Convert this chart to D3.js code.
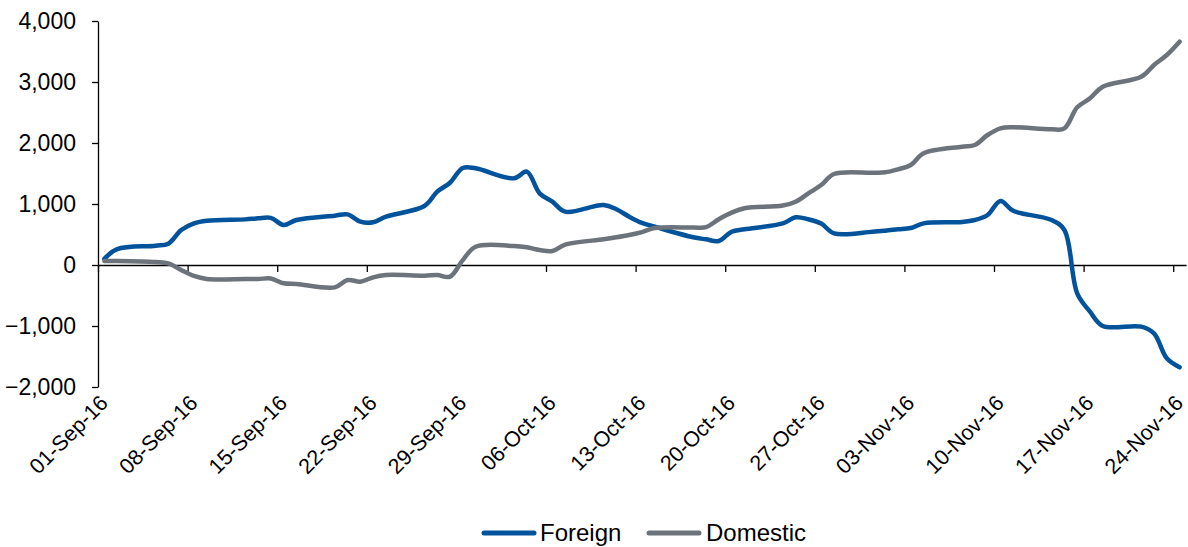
<!DOCTYPE html>
<html>
<head>
<meta charset="utf-8">
<script src="https://cdn.jsdelivr.net/npm/d3@7"></script>
<style>
  body { margin: 0; background: #fff; }
  svg { display: block; font-family: "Liberation Sans", Arial, sans-serif; }
</style>
</head>
<body>
<svg id="chart" width="1188" height="547"></svg>
<script>
// trading days, 01-Sep-16 .. 24-Nov-16
const dates = [
  "2016-09-01", "2016-09-02",
  "2016-09-05", "2016-09-06", "2016-09-07", "2016-09-08", "2016-09-09",
  "2016-09-12", "2016-09-13", "2016-09-14", "2016-09-15", "2016-09-16",
  "2016-09-19", "2016-09-20", "2016-09-21", "2016-09-22", "2016-09-23",
  "2016-09-26", "2016-09-27", "2016-09-28", "2016-09-29", "2016-09-30",
  "2016-10-03", "2016-10-04", "2016-10-05", "2016-10-06", "2016-10-07",
  "2016-10-10", "2016-10-11", "2016-10-12", "2016-10-13", "2016-10-14",
  "2016-10-17", "2016-10-18", "2016-10-19", "2016-10-20", "2016-10-21",
  "2016-10-24", "2016-10-25", "2016-10-26", "2016-10-27", "2016-10-28",
  "2016-10-31", "2016-11-01", "2016-11-02", "2016-11-03", "2016-11-04",
  "2016-11-07", "2016-11-08", "2016-11-09", "2016-11-10", "2016-11-11",
  "2016-11-14", "2016-11-15", "2016-11-16", "2016-11-17", "2016-11-18",
  "2016-11-21", "2016-11-22", "2016-11-23", "2016-11-24"
];

const foreign = [
  100, 260,
  316, 350, 574, 683, 726,
  748, 765, 772, 656, 737,
  809, 830, 710, 700, 792,
  967, 1202, 1349, 1590, 1585,
  1421, 1530, 1175, 1038, 874,
  983, 913, 792, 690, 628,
  454, 421, 393, 546, 585,
  683, 782, 749, 680, 519,
  546, 563, 585, 606, 683,
  705, 737, 820, 1050, 890,
  737, 574, -464, -765, -1000,
  -1011, -1120, -1530, -1677
];

const domestic = [
  66, 66,
  49, 27, -82, -180, -230,
  -230, -230, -220, -300, -311,
  -366, -246, -273, -202, -164,
  -175, -164, -191, 80, 300,
  311, 290, 246, 230, 335,
  421, 454, 492, 540, 605,
  615, 620, 750, 858, 930,
  975, 1038, 1175, 1311, 1492,
  1513, 1519, 1568, 1639, 1831,
  1939, 1967, 2131, 2240, 2257,
  2224, 2240, 2585, 2732, 2923,
  3087, 3279, 3443, 3660
];

const yTicks = [-2000, -1000, 0, 1000, 2000, 3000, 4000];
const xTickLabels = [
  "01-Sep-16", "08-Sep-16", "15-Sep-16", "22-Sep-16", "29-Sep-16", "06-Oct-16",
  "13-Oct-16", "20-Oct-16", "27-Oct-16", "03-Nov-16", "10-Nov-16", "17-Nov-16", "24-Nov-16"
];

const series = [
  { name: "Foreign", values: foreign, color: "#02539c" },
  { name: "Domestic", values: domestic, color: "#6c737a" }
];

const svg = d3.select("#chart");
const parse = d3.utcParse("%Y-%m-%d");
const day = 864e5;

const plotLeft = 98, plotRight = 1186, plotTop = 21, plotBottom = 387;

// date axis: each day is a slot, points sit in the middle of their slot
const x = d3.scaleUtc()
  .domain([parse("2016-09-01"), new Date(+parse("2016-11-24") + day)])
  .range([plotLeft, plotRight]);
const y = d3.scaleLinear().domain([-2000, 4000]).range([plotBottom, plotTop]);

const px = (s) => x(new Date(+parse(s) + day / 2));

// y axis
svg.append("g")
  .attr("transform", `translate(${plotLeft},0)`)
  .call(d3.axisLeft(y).tickValues(yTicks).tickSize(6).tickSizeOuter(0).tickPadding(16).tickFormat(d3.format(",")))
  .call((g) => g.selectAll("path, line").attr("stroke", "#000").attr("stroke-width", 1.3))
  .call((g) => g.selectAll("text").attr("font-size", 23).attr("fill", "#000").attr("font-family", "Liberation Sans, Arial, sans-serif"));

// x axis along zero
const tickDates = xTickLabels.map((t) => d3.utcParse("%d-%b-%y")(t));
svg.append("g")
  .attr("transform", `translate(0,${y(0)})`)
  .call(d3.axisBottom(x).tickValues(tickDates).tickSize(7).tickSizeOuter(0).tickFormat(""))
  .call((g) => g.selectAll("path, line").attr("stroke", "#000").attr("stroke-width", 1.3));

// rotated labels under the plot
svg.append("g")
  .selectAll("text")
  .data(tickDates)
  .join("text")
  .attr("transform", (d) => `translate(${x(d) + 6},${plotBottom + 12}) rotate(-45)`)
  .attr("text-anchor", "end")
  .attr("dy", "0.35em")
  .attr("font-size", 21.5)
  .attr("fill", "#000")
  .text((d, i) => xTickLabels[i]);

const line = d3.line()
  .x((d, i) => px(dates[i]))
  .y((d) => y(d))
  .curve(d3.curveCatmullRom.alpha(0.5));

svg.append("g")
  .selectAll("path")
  .data(series)
  .join("path")
  .attr("d", (s) => line(s.values))
  .attr("fill", "none")
  .attr("stroke", (s) => s.color)
  .attr("stroke-width", 4.5)
  .attr("stroke-linejoin", "round")
  .attr("stroke-linecap", "round");

// legend
const legend = svg.append("g").attr("transform", "translate(0,533)");
const legendItems = [
  { x: 484, textX: 540 },
  { x: 649, textX: 706 }
];
series.forEach((s, i) => {
  const it = legendItems[i];
  legend.append("line")
    .attr("x1", it.x).attr("x2", it.x + 50)
    .attr("y1", 0).attr("y2", 0)
    .attr("stroke", s.color).attr("stroke-width", 5).attr("stroke-linecap", "round");
  legend.append("text")
    .attr("x", it.textX).attr("y", 0).attr("dy", "0.35em")
    .attr("font-size", 24).attr("fill", "#000")
    .text(s.name);
});
</script>
</body>
</html>
